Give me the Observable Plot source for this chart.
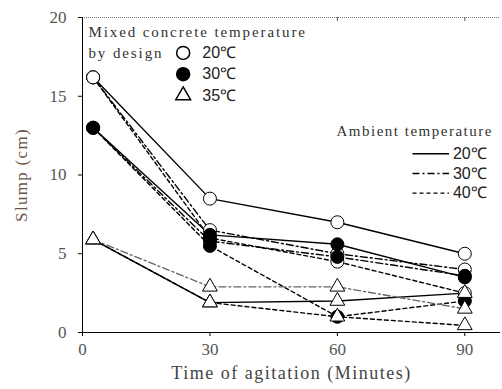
<!DOCTYPE html>
<html><head><meta charset="utf-8">
<script src="https://cdn.jsdelivr.net/npm/d3@7"></script>
<script src="https://cdn.jsdelivr.net/npm/@observablehq/plot@0.6"></script>
<style>body{margin:0;background:#fff}</style>
</head><body><div id="chart"></div>
<script>
// time of agitation (minutes)
const times = [2.5, 30, 60, 90];
// concrete temperature by design (marker) x ambient temperature (line style)
const concreteTemps = ["20℃", "30℃", "35℃"];
const ambientTemps = ["20℃", "30℃", "40℃"];
// slump (cm)
const c20_a20 = [16.2, 8.5, 7.0, 5.0];
const c20_a30 = [16.2, 6.5, 5.0, 4.0];
const c20_a40 = [16.2, 6.0, 4.5, 2.5];
const c30_a20 = [13.0, 6.2, 5.6, 3.5];
const c30_a30 = [13.0, 5.8, 4.8, 3.6];
const c30_a40 = [13.0, 5.5, 1.0, 2.0];
const c35_a20 = [5.9, 1.9, 2.0, 2.5];
const c35_a30 = [5.9, 2.9, 2.9, 1.5];
const c35_a40 = [5.9, 1.9, 1.0, 0.45];
const xTicks = [0, 30, 60, 90];
const yTicks = [0, 5, 10, 15, 20];
const xTitle = "Time of agitation (Minutes)";
const yTitle = "Slump (cm)";
const legendTitle1 = "Mixed concrete temperature";
const legendTitle1b = "by design";
const legendTitle2 = "Ambient temperature";

const seriesList = [
  [concreteTemps[0], ambientTemps[0], c20_a20],
  [concreteTemps[0], ambientTemps[1], c20_a30],
  [concreteTemps[0], ambientTemps[2], c20_a40],
  [concreteTemps[1], ambientTemps[0], c30_a20],
  [concreteTemps[1], ambientTemps[1], c30_a30],
  [concreteTemps[1], ambientTemps[2], c30_a40],
  [concreteTemps[2], ambientTemps[0], c35_a20],
  [concreteTemps[2], ambientTemps[1], c35_a30],
  [concreteTemps[2], ambientTemps[2], c35_a40]
];
const rows = [];
seriesList.forEach(([c, a, vals], si) => vals.forEach((v, i) => rows.push({series: si, c, a, t: times[i], v})));

const dashFor = {"20℃": null, "30℃": "7,3,2,3", "40℃": "4,3"};
const symbolFor = {"20℃": "circle", "30℃": "circle", "35℃": "triangle"};
const fillFor = {"20℃": "white", "30℃": "black", "35℃": "white"};
const rFor = {"20℃": 6.5, "30℃": 6.5, "35℃": 5.5};

const serif = "'Liberation Serif', 'DejaVu Serif', serif";
const sans = "'Liberation Sans', Arial, sans-serif";

const lineMarks = seriesList.map(([c, a], si) => {
  const gray = (c === "35℃" && a === "30℃");
  return Plot.line(rows.filter(d => d.series === si), {
    x: "t", y: "v", stroke: gray ? "#666" : "black", strokeWidth: 1.4,
    strokeDasharray: dashFor[a]
  });
});
const dotMarks = concreteTemps.map(c => Plot.dot(rows.filter(d => d.c === c), {
  x: "t", y: "v", symbol: () => symbolFor[c], r: rFor[c], fill: fillFor[c], stroke: "black", strokeWidth: 1
}));

// legends (positioned in data units)
const legend1 = [{x: 1.4, y: 19.05, text: legendTitle1}, {x: 1.4, y: 17.75, text: legendTitle1b}];
const legend1Items = concreteTemps.map((c, i) => ({c, x: 23.7, y: [17.75, 16.4, 15.05][i]}));
const legend2Items = ambientTemps.map((a, i) => ({a, y: [11.35, 10.1, 8.85][i]}));

const plot = Plot.plot({
  width: 502, height: 389,
  marginLeft: 82, marginRight: 2, marginTop: 17, marginBottom: 57,
  style: {fontFamily: serif, background: "white"},
  x: {type: "linear", domain: [0, 98.4], ticks: xTicks},
  y: {type: "linear", domain: [0, 20], ticks: yTicks},
  marks: [
    Plot.ruleY([20], {stroke: "#777", strokeDasharray: "1,1"}),
    Plot.axisX(xTicks, {anchor: "bottom", tickSize: 4, fontSize: 17, fill: "#555", tickPadding: 6,
      label: xTitle, labelAnchor: "center", labelOffset: 46, labelArrow: "none"}),
    Plot.axisY(yTicks, {anchor: "left", tickSize: 4, fontSize: 17, fill: "#555", tickPadding: 12,
      label: yTitle, labelAnchor: "center", labelOffset: 68, labelArrow: "none"}),
    Plot.ruleX([60, 90], {y1: 20, y2: 19.75, stroke: "#555"}),
    ...lineMarks,
    ...dotMarks,
    Plot.ruleX([0], {stroke: "black"}),
    Plot.ruleY([0], {stroke: "black"}),
    Plot.text(legend1, {x: "x", y: "y", text: "text", textAnchor: "start", fontSize: 15, fill: "#333", fontFamily: serif}),
    ...legend1Items.map(d => Plot.dot([d], {x: "x", y: "y", symbol: symbolFor[d.c], fill: fillFor[d.c], stroke: "black", r: rFor[d.c]})),
    Plot.text(legend1Items, {x: 28.2, y: "y", text: "c", textAnchor: "start", fontSize: 16, fill: "#222", fontFamily: sans}),
    Plot.text([legendTitle2], {x: 59.8, y: 12.8, textAnchor: "start", fontSize: 15, fill: "#333", fontFamily: serif}),
    ...legend2Items.map(d => Plot.ruleY([d.y], {x1: 77.8, x2: 86.4, stroke: "black", strokeWidth: 1.4, strokeDasharray: dashFor[d.a]})),
    Plot.text(legend2Items, {x: 87.2, y: "y", text: "a", textAnchor: "start", fontSize: 16, fill: "#222", fontFamily: sans})
  ]
});
const spacing = {[legendTitle1]: 1.9, [legendTitle1b]: 1.9, [legendTitle2]: 1.5, [xTitle]: 1.5, [yTitle]: 1.3};
d3.select(plot).selectAll("text").each(function() {
  const t = this.textContent.trim();
  if (t in spacing) {
    d3.select(this).attr("letter-spacing", spacing[t] + "px").style("letter-spacing", spacing[t] + "px");
    if (t === xTitle) d3.select(this).attr("font-size", 18).attr("fill", "#444");
    if (t === yTitle) d3.select(this).attr("font-size", 17).attr("fill", "#6b5548");
  }
});
document.getElementById("chart").appendChild(plot);
</script>
</body></html>
